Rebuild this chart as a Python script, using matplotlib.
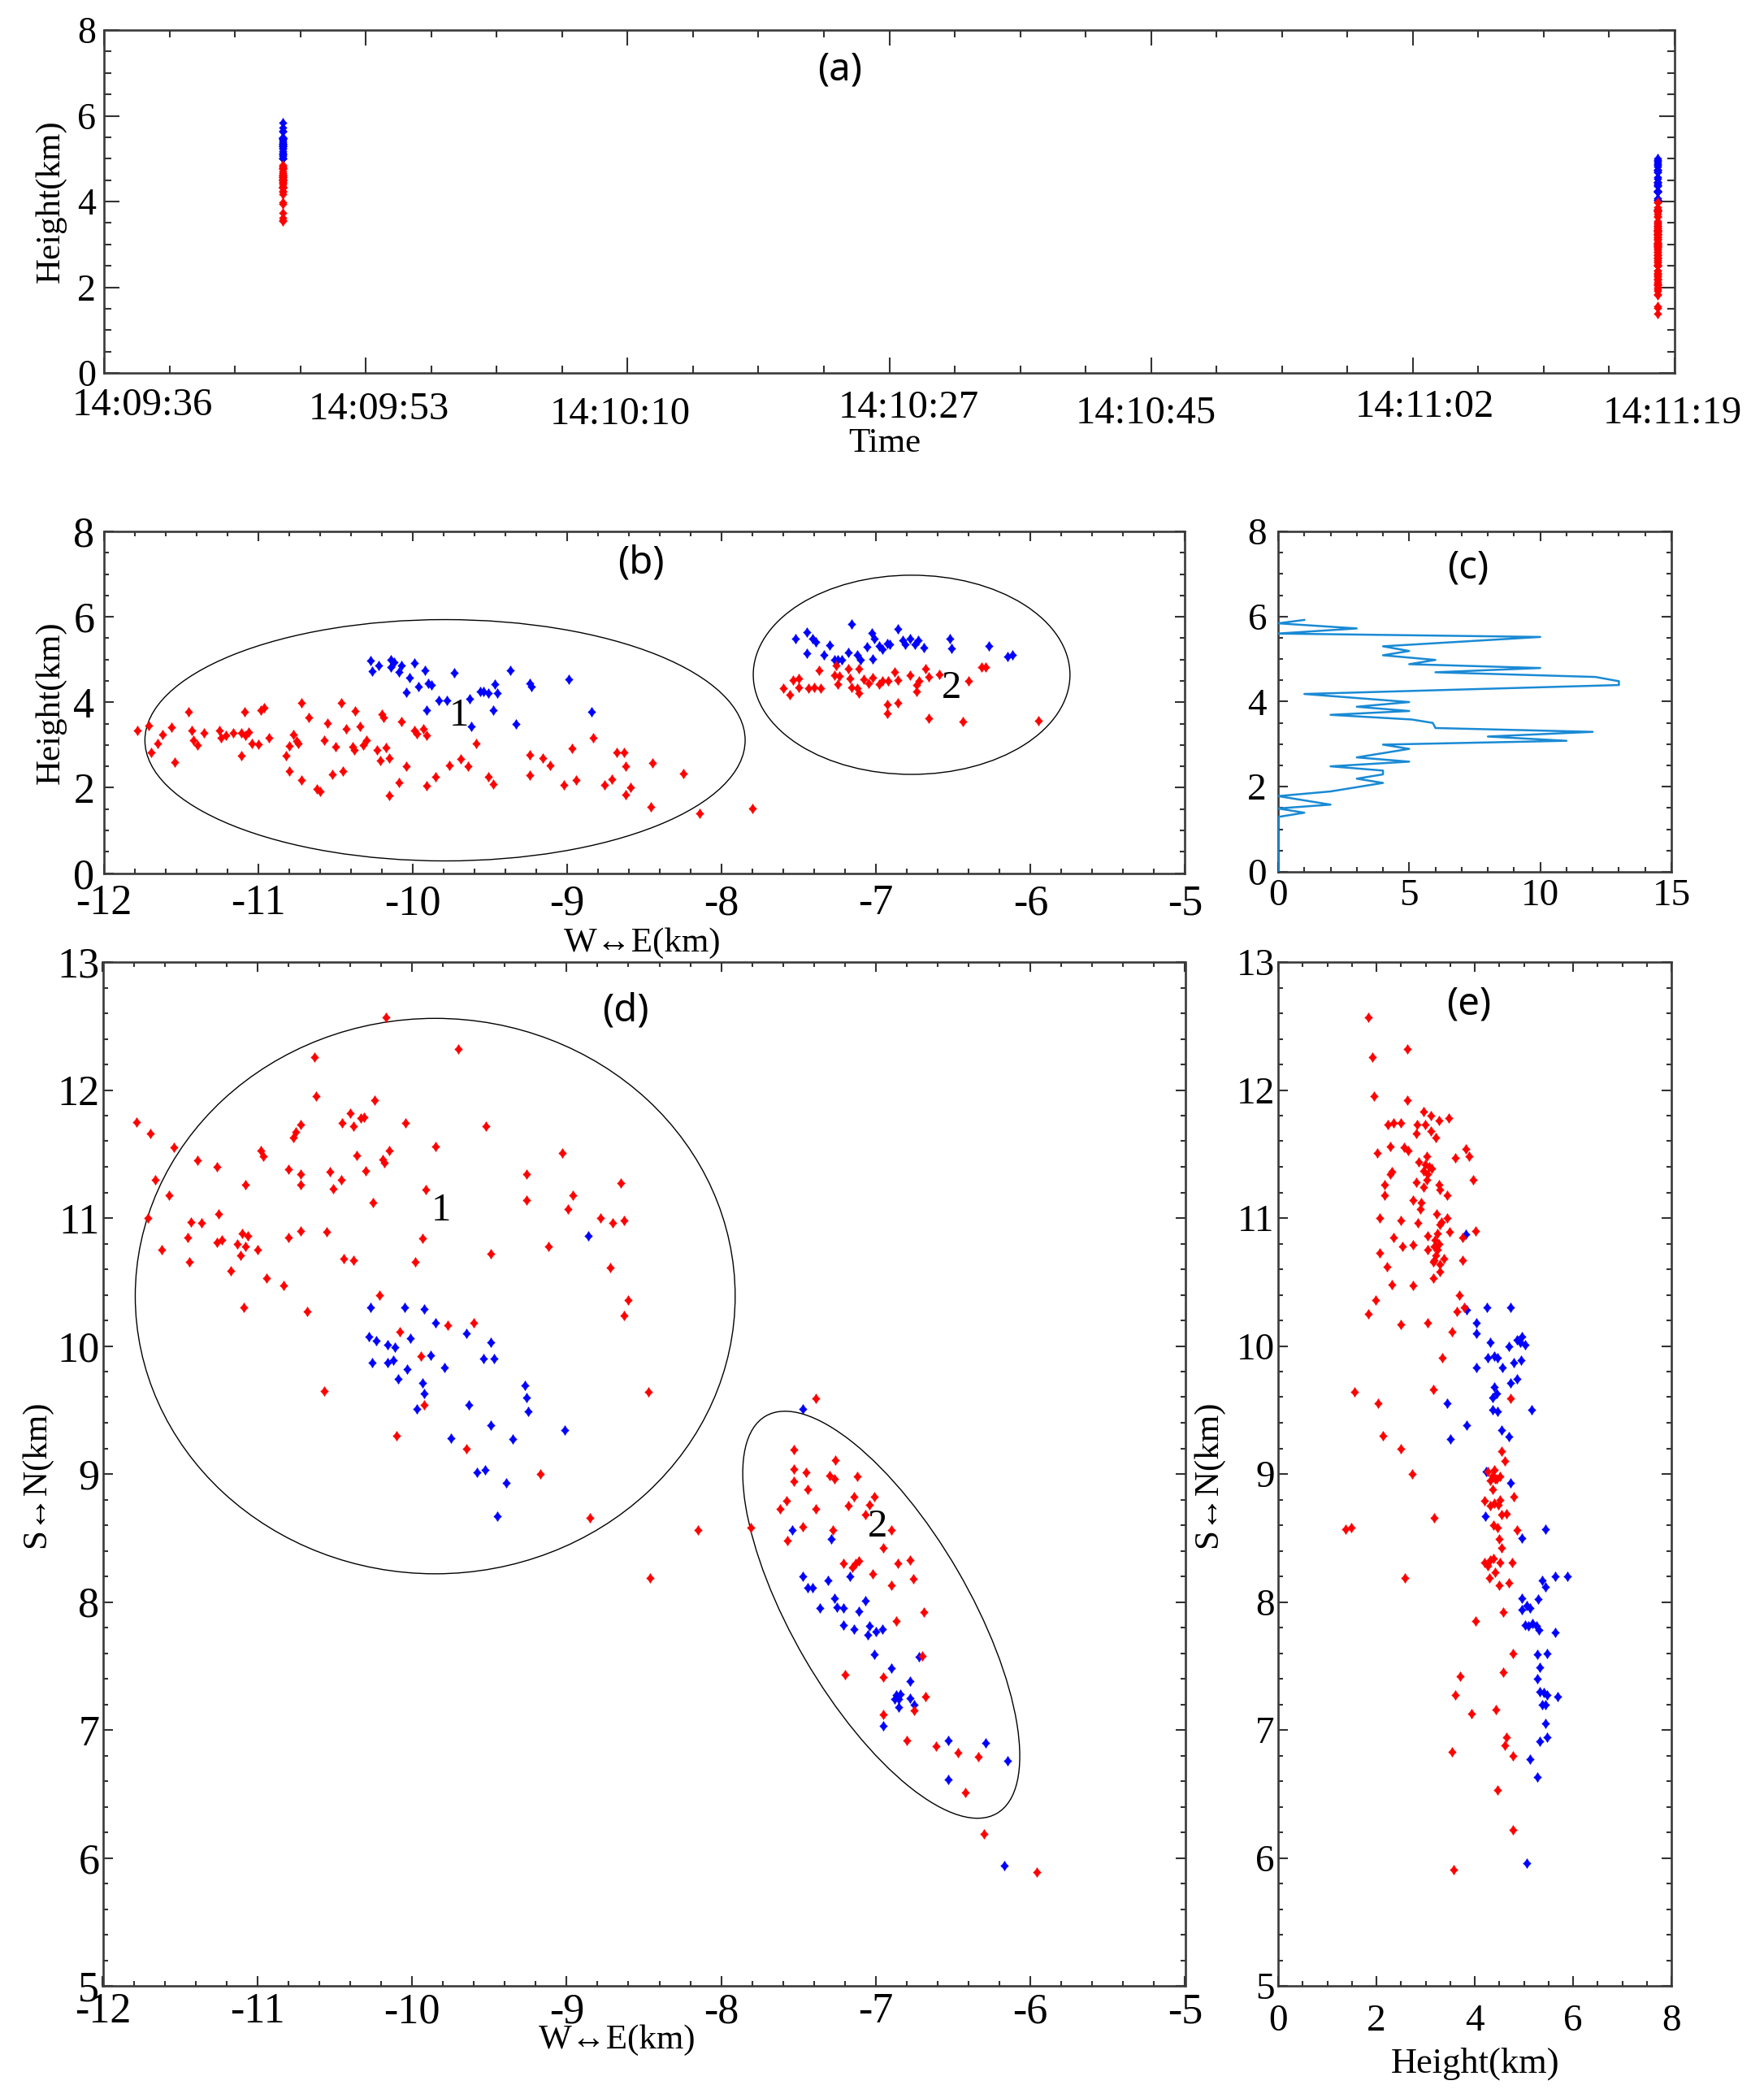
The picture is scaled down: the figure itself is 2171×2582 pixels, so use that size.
import numpy as np
import matplotlib
matplotlib.use('Agg')
import matplotlib.pyplot as plt
from matplotlib.patches import Ellipse
from matplotlib.path import Path
from matplotlib.transforms import Affine2D, ScaledTranslation
from matplotlib.ticker import MultipleLocator, FixedLocator, AutoMinorLocator

plt.rcParams['font.family'] = ['Liberation Serif', 'DejaVu Serif']
plt.rcParams['axes.unicode_minus'] = False

# ---------------- data ----------------
# (a) time axis
time_labels = ['14:09:36', '14:09:53', '14:10:10', '14:10:27', '14:10:45', '14:11:02', '14:11:19']
flash2_time = '14:09:47.7'   # cluster 2 (left column in a)
flash1_time = '14:11:17.9'   # cluster 1 (right column in a)

# (b) W-E vs height, cluster 1
b1_red_x = [-11.78, -11.71, -11.69, -11.65, -11.62, -11.56, -11.54, -11.45, -11.43, -11.42, -11.39, -11.35,
            -11.25, -11.24, -11.21, -11.16, -11.11, -11.11, -11.09, -11.08, -11.06, -11.04, -11.00, -10.98,
            -10.96, -10.93, -10.82, -10.80, -10.80, -10.77, -10.75, -10.74, -10.72, -10.72, -10.67, -10.62,
            -10.60, -10.57, -10.55, -10.52, -10.50, -10.46, -10.45, -10.43, -10.39, -10.38, -10.37, -10.34,
            -10.32, -10.30, -10.23, -10.21, -10.20, -10.19, -10.17, -10.15, -10.15, -10.09, -10.07, -10.04,
            -9.99, -9.97, -9.93, -9.91, -9.91, -9.85, -9.76, -9.69, -9.64, -9.59, -9.51, -9.48, -9.24, -9.24,
            -9.16, -9.11, -9.02, -8.97, -8.94, -8.83, -8.76, -8.71, -8.68, -8.63, -8.62, -8.62, -8.59, -8.46,
            -8.45, -8.25, -8.14, -7.80]
b1_red_z = [3.34, 3.46, 2.82, 3.03, 3.24, 3.41, 2.59, 3.78, 3.34, 3.12, 3.00, 3.29,
            3.34, 3.17, 3.23, 3.29, 2.75, 3.29, 3.78, 3.23, 3.31, 3.03, 3.02, 3.81,
            3.87, 3.17, 2.75, 2.98, 2.38, 3.24, 3.09, 3.03, 3.99, 2.18, 3.65, 1.96,
            1.92, 3.12, 3.51, 2.31, 2.95, 3.99, 2.38, 3.37, 2.95, 2.88, 3.80, 3.44,
            3.00, 3.12, 2.89, 2.63, 3.71, 3.64, 2.93, 2.70, 1.82, 2.13, 3.55, 2.51,
            3.34, 3.26, 3.37, 3.22, 2.04, 2.25, 2.52, 2.68, 2.51, 3.03, 2.25, 2.08, 2.76, 2.30,
            2.69, 2.52, 2.06, 2.92, 2.18, 3.17, 2.06, 2.20, 2.83, 2.83, 2.51, 1.83, 2.00, 1.55,
            2.58, 2.34, 1.39, 1.51]
b1_blue_x = [-10.27, -10.26, -10.22, -10.14, -10.14, -10.12, -10.09, -10.07, -10.04, -10.02, -9.99, -9.96,
             -9.92, -9.91, -9.90, -9.88, -9.83, -9.78, -9.73, -9.63, -9.62, -9.56, -9.54, -9.51, -9.48,
             -9.47, -9.45, -9.37, -9.33, -9.24, -9.23, -8.99, -8.84]
b1_blue_z = [4.97, 4.73, 4.86, 5.00, 4.82, 4.94, 4.70, 4.87, 4.23, 4.57, 4.91, 4.37,
             4.74, 3.81, 4.45, 4.40, 4.04, 4.04, 4.69, 4.08, 3.44, 4.25, 4.25, 4.22, 3.81,
             4.43, 4.22, 4.74, 3.50, 4.45, 4.36, 4.53, 3.78]
# (b) cluster 2
b2_red_x = [-7.60, -7.56, -7.54, -7.50, -7.50, -7.44, -7.40, -7.37, -7.36, -7.27, -7.26, -7.25, -7.24,
            -7.18, -7.17, -7.16, -7.12, -7.11, -7.11, -7.08, -7.05, -7.02, -6.98, -6.96, -6.93, -6.93,
            -6.92, -6.88, -6.86, -6.86, -6.78, -6.74, -6.74, -6.72, -6.68, -6.66, -6.66, -6.59, -6.44,
            -6.40, -6.32, -6.29, -5.95]
b2_red_z = [4.32, 4.18, 4.52, 4.56, 4.35, 4.32, 4.35, 4.75, 4.32, 4.63, 4.86, 4.43, 4.61,
            4.78, 4.56, 4.35, 4.32, 4.78, 4.22, 4.54, 4.45, 4.57, 4.43, 4.50, 3.94, 3.74,
            4.50, 4.70, 4.52, 3.99, 4.63, 4.40, 4.25, 4.50, 4.78, 4.59, 3.62, 4.66, 3.55,
            4.49, 4.82, 4.82, 3.57]
b2_blue_x = [-7.52, -7.45, -7.45, -7.41, -7.39, -7.34, -7.30, -7.27, -7.25, -7.22, -7.18, -7.16, -7.12,
             -7.10, -7.06, -7.03, -7.02, -7.01, -6.98, -6.96, -6.93, -6.91, -6.86, -6.83, -6.81, -6.78,
             -6.75, -6.73, -6.69, -6.52, -6.51, -6.27, -6.15, -6.12]
b2_blue_z = [5.48, 5.14, 5.65, 5.48, 5.42, 5.10, 5.34, 5.00, 5.00, 5.00, 5.17, 5.84, 5.10,
             5.00, 5.29, 5.63, 5.01, 5.48, 5.31, 5.24, 5.38, 5.35, 5.72, 5.46, 5.35, 5.49,
             5.35, 5.46, 5.28, 5.48, 5.26, 5.31, 5.07, 5.10]

# (c) source count profile vs height
c_count = [1, 0, 3, 0, 10, 4, 5, 4, 6, 5, 10, 6, 12.1, 13, 13, 1, 5, 3, 5, 2, 5.1, 5.9, 6, 12, 8, 11,
           4, 5, 3, 5, 2, 4, 4, 3, 4, 2, 0, 2, 0, 1, 0, 0]
c_height = [5.92, 5.84, 5.72, 5.60, 5.52, 5.30, 5.19, 5.09, 4.98, 4.88, 4.79, 4.69, 4.58, 4.48, 4.39,
            4.18, 3.99, 3.88, 3.78, 3.69, 3.58, 3.50, 3.38, 3.29, 3.18, 3.08, 2.99, 2.89, 2.69, 2.59,
            2.48, 2.38, 2.29, 2.19, 2.09, 1.89, 1.78, 1.58, 1.49, 1.39, 1.29, 0.0]

# (d) W-E vs S-N
d_red_x = [-11.78, -11.69, -11.54, -11.66, -11.57, -11.71, -11.39, -11.26, -11.08, -11.43, -11.36, -11.25,
           -11.45, -11.62, -11.44, -11.26, -11.23, -11.10, -11.06, -11.13, -11.08, -11.11, -11.00, -11.17,
           -10.94, -10.83, -11.09, -10.68, -10.80, -10.72, -10.55, -10.98, -10.96, -10.80, -10.72, -10.72,
           -10.77, -10.75, -10.72, -10.63, -10.62, -10.45, -10.40, -10.38, -10.33, -10.31, -10.24, -10.17,
           -9.70, -10.04, -10.53, -10.46, -10.51, -10.36, -10.30, -10.15, -10.19, -10.18, -10.25, -9.85,
           -9.91, -9.93, -9.98, -10.44, -10.38, -10.21, -9.52, -9.26, -9.26, -9.03, -8.96, -8.99, -9.12,
           -9.49, -8.78, -8.70, -8.63, -8.65, -8.72, -8.60, -8.63, -10.08, -9.77, -9.60, -9.94,
           -10.57, -8.47, -9.92, -10.10, -9.65, -9.17, -8.85, -8.46,
           -7.39, -8.15, -7.81, -7.53, -7.26, -7.53, -7.45, -7.30, -7.27, -7.12, -7.53, -7.44, -7.58,
           -7.62, -7.39, -7.18, -7.14, -7.01, -7.04, -7.07, -7.47, -7.28, -7.57, -6.90, -6.95, -7.21,
           -7.15, -7.13, -7.11, -6.86, -6.78, -7.02, -6.90, -6.76, -6.69, -6.87, -6.70, -7.20, -6.95,
           -6.68, -6.75, -6.95, -6.80, -6.61, -6.47, -6.34, -6.42, -6.30, -5.96]
d_red_y = [11.75, 11.66, 11.55, 11.30, 11.18, 11.00, 11.45, 11.40, 11.26, 10.97, 10.96, 11.03,
           10.85, 10.75, 10.66, 10.81, 10.83, 10.88, 10.86, 10.80, 10.78, 10.71, 10.75, 10.59,
           10.53, 10.47, 10.30, 10.27, 10.85, 10.90, 10.89, 11.53, 11.48, 11.38, 11.34, 11.26,
           11.63, 11.67, 11.73, 12.26, 11.95, 11.74, 11.82, 11.72, 11.78, 11.79, 11.92, 12.57,
           12.32, 11.74, 11.36, 11.30, 11.23, 11.49, 11.37, 11.53, 11.46, 11.43, 11.12, 11.56,
           11.22, 10.84, 10.66, 10.68, 10.67, 10.40, 11.72, 11.34, 11.14, 11.51, 11.18, 11.07, 10.78,
           10.72, 11.00, 10.96, 10.98, 11.27, 10.61, 10.36, 10.24, 10.11, 10.16, 10.18, 9.92,
           9.65, 9.64, 9.54, 9.30, 9.20, 9.00, 8.66, 8.19,
           9.59, 8.56, 8.58, 9.19, 9.11, 9.04, 9.01, 8.99, 8.96, 8.98, 8.94, 8.88, 8.79,
           8.73, 8.73, 8.75, 8.82, 8.82, 8.76, 8.68, 8.59, 8.56, 8.48, 8.56, 8.42, 8.30,
           8.27, 8.30, 8.32, 8.30, 8.33, 8.22, 8.13, 8.18, 7.92, 7.85, 7.58, 7.43, 7.41,
           7.26, 7.15, 7.12, 6.92, 6.87, 6.82, 6.79, 6.51, 6.19, 5.89]
d_blue_x = [-8.86, -10.27, -10.05, -9.92, -9.85, -9.65, -10.28, -10.23, -10.16, -10.11, -10.01, -9.49,
            -9.88, -10.26, -10.16, -10.12, -10.03, -9.79, -9.54, -9.47, -10.09, -9.93, -9.92, -9.97,
            -9.63, -9.27, -9.26, -9.25, -9.49, -9.75, -9.35, -9.01, -9.58, -9.53, -9.39, -9.45,
            -7.47, -7.54, -7.29, -7.47, -7.44, -7.41, -7.31, -7.17, -7.27, -7.07, -7.36, -7.25, -7.21,
            -7.11, -7.21, -7.14, -7.04, -7.00, -6.96, -7.05, -7.01, -6.72, -6.90, -6.78, -6.87, -6.84,
            -6.85, -6.88, -6.78, -6.75, -6.85, -6.95, -6.53, -6.29, -6.15, -6.53, -6.17]
d_blue_y = [10.86, 10.30, 10.30, 10.29, 10.18, 10.10, 10.07, 10.04, 10.01, 9.99, 10.06, 10.03,
            9.93, 9.87, 9.87, 9.89, 9.82, 9.83, 9.90, 9.90, 9.74, 9.71, 9.63, 9.51,
            9.54, 9.69, 9.60, 9.49, 9.38, 9.28, 9.27, 9.34, 9.01, 9.03, 8.93, 8.67,
            9.51, 8.56, 8.49, 8.20, 8.11, 8.11, 8.17, 8.20, 8.03, 8.01, 7.95, 7.96, 7.95,
            7.93, 7.82, 7.79, 7.81, 7.77, 7.79, 7.74, 7.59, 7.57, 7.48, 7.38, 7.27, 7.28,
            7.24, 7.24, 7.25, 7.20, 7.18, 7.03, 6.92, 6.90, 6.76, 6.61, 5.94]

# (e) height vs S-N
e_red_z = [1.84, 1.91, 2.63, 1.95, 2.63, 2.96, 3.10, 3.47, 2.23, 2.34, 2.49, 2.83, 2.99, 3.28, 2.81, 3.10,
           3.21, 2.02, 2.28, 2.56, 2.64, 3.82, 3.89, 3.61, 2.86, 3.02, 2.99, 3.07, 3.12, 2.96, 3.04, 3.03,
           2.28, 2.32, 2.17, 2.81, 2.96, 3.28, 3.29, 2.16, 3.43, 3.97, 2.75, 2.91, 2.89, 3.23, 3.43, 3.32,
           2.07, 2.49, 2.85, 3.29, 4.01, 3.48, 3.75, 3.24, 3.19, 3.04, 3.27, 2.35, 2.53, 2.75, 3.17, 3.04,
           3.24, 3.21, 3.17, 3.37, 3.29, 3.15, 2.07, 2.21, 3.75, 3.29, 3.15, 2.32, 2.75, 3.68, 1.99, 3.78,
           3.64, 1.84, 2.49, 3.04, 3.53, 3.34, 4.72, 1.56, 3.15, 2.03, 2.13, 2.49, 4.55, 4.61,
           2.72, 4.26, 4.36, 4.45, 4.39, 4.42, 4.51, 4.31, 4.36, 4.20, 4.32, 4.39, 4.51, 4.48, 4.80, 4.55,
           4.64, 3.18, 1.37, 1.49, 4.38, 4.47, 4.86, 4.50, 4.55, 4.20, 4.32, 4.38, 4.27, 4.51, 4.76, 4.42,
           4.29, 4.50, 4.69, 2.58, 4.58, 4.01, 4.78, 4.58, 3.71, 3.61, 3.93, 4.43, 4.65, 4.61, 4.78, 3.53,
           4.47, 4.78, 3.57]
e_red_y = [12.57, 12.26, 12.32, 11.95, 11.92, 11.83, 11.80, 11.78, 11.73, 11.74, 11.74, 11.73, 11.73, 11.76,
           11.66, 11.68, 11.63, 11.51, 11.56, 11.55, 11.53, 11.54, 11.48, 11.47, 11.44, 11.48, 11.42, 11.40,
           11.39, 11.37, 11.34, 11.30, 11.34, 11.36, 11.26, 11.28, 11.24, 11.26, 11.22, 11.18, 11.18, 11.30,
           11.14, 11.12, 11.07, 11.03, 11.00, 10.97, 11.00, 10.98, 10.96, 10.95, 10.90, 10.89, 10.85, 10.88,
           10.83, 10.86, 10.80, 10.85, 10.78, 10.79, 10.78, 10.75, 10.75, 10.71, 10.67, 10.68, 10.64, 10.66,
           10.73, 10.62, 10.67, 10.58, 10.53, 10.48, 10.47, 10.40, 10.36, 10.30, 10.27, 10.25, 10.17, 10.18,
           10.11, 9.91, 9.59, 9.64, 9.66, 9.55, 9.30, 9.20, 9.18, 9.10,
           9.00, 9.02, 8.99, 8.96, 9.03, 8.96, 8.98, 8.95, 8.88, 8.79, 8.75, 8.77, 8.80, 8.76, 8.82, 8.68,
           8.69, 8.66, 8.57, 8.58, 8.60, 8.58, 8.56, 8.49, 8.42, 8.31, 8.33, 8.34, 8.28, 8.31, 8.31, 8.23,
           8.19, 8.13, 8.15, 8.19, 7.92, 7.85, 7.60, 7.45, 7.42, 7.27, 7.13, 7.16, 6.94, 6.88, 6.80, 6.83,
           6.53, 6.22, 5.91]
e_blue_z = [3.82, 3.83, 4.25, 4.72, 4.04, 4.04, 4.32, 4.69, 4.86, 4.96, 4.93, 5.02, 4.27, 4.39, 4.47, 4.04,
            4.57, 4.80, 4.95, 4.72, 4.86, 4.39, 4.45, 4.36, 3.43, 5.15, 4.36, 4.47, 3.83, 4.55, 4.69, 3.50,
            4.23, 4.72, 4.21, 5.44, 4.96, 5.37, 5.63, 5.88, 5.44, 5.29, 4.96, 4.96, 5.06, 5.12, 5.02, 5.09,
            5.18, 5.25, 5.31, 5.63, 5.27, 5.47, 5.33, 5.28, 5.33, 5.41, 5.47, 5.69, 5.37, 5.44, 5.44, 5.33,
            5.47, 5.12, 5.27, 5.06]
e_blue_y = [10.87, 10.28, 10.30, 10.30, 10.18, 10.10, 10.03, 10.00, 10.05, 10.07, 10.03, 10.01, 9.91, 9.92,
            9.91, 9.83, 9.83, 9.87, 9.89, 9.71, 9.74, 9.68, 9.63, 9.60, 9.55, 9.50, 9.50, 9.49, 9.38, 9.34,
            9.29, 9.27, 9.02, 8.93, 8.67, 8.57, 8.50, 8.17, 8.20, 8.20, 8.12, 8.02, 8.03, 7.94, 7.97, 7.95,
            7.82, 7.81, 7.83, 7.81, 7.78, 7.76, 7.59, 7.60, 7.49, 7.40, 7.30, 7.29, 7.27, 7.26, 7.20, 7.20,
            7.05, 6.91, 6.94, 6.77, 6.63, 5.96]

# ---------------- helpers ----------------
def hms(s):
    h, m, sec = s.split(':')
    return int(h) * 3600 + int(m) * 60 + float(sec)

DIAMOND = Path([(0, 1), (0.4, 0.36), (0.8, 0), (0.4, -0.36), (0, -1),
                (-0.4, -0.36), (-0.8, 0), (-0.4, 0.36), (0, 1)],
               [Path.MOVETO] + [Path.LINETO] * 7 + [Path.CLOSEPOLY])
RED = '#ff0000'
BLUE = '#0000ff'
SERIF = ['Liberation Serif', 'DejaVu Serif']
TITLE_FONT = dict(family=['Noto Sans', 'DejaVu Sans'], fontsize=34)


def pts(ax, x, y, color, ms=8.6):
    ax.plot(x, y, linestyle='none', marker=DIAMOND, ms=ms, mfc=color, mec=color, mew=0.4, zorder=3)


def style(ax, xmaj=None, xmin=None, ymaj=None, ymin=None, fs=36, xpad=6, ypad=6, L=8.6, l=4.3):
    if xmaj is not None:
        ax.xaxis.set_major_locator(MultipleLocator(xmaj))
        ax.xaxis.set_minor_locator(MultipleLocator(xmin))
    if ymaj is not None:
        ax.yaxis.set_major_locator(MultipleLocator(ymaj))
        ax.yaxis.set_minor_locator(MultipleLocator(ymin))
    ax.tick_params(which='both', direction='in', top=True, right=True, color='#333333',
                   width=1.5, labelcolor='black', labelsize=fs, labelfontfamily='Liberation Serif')
    ax.tick_params(which='major', length=L)
    ax.tick_params(which='minor', length=l)
    ax.tick_params(axis='x', which='major', pad=xpad)
    ax.tick_params(axis='y', which='major', pad=ypad)
    for sp in ax.spines.values():
        sp.set_linewidth(1.9)
        sp.set_color('#3a3a3a')


fig = plt.figure(figsize=(21.71, 25.82), dpi=100)
W, H = 2171.0, 2582.0


def axes_px(l, r, t, b):
    return fig.add_axes([l / W, 1 - b / H, (r - l) / W, (b - t) / H])

# ---------------- (a) ----------------
axa = axes_px(128, 2061, 37, 459)
t_start, t_end = hms(time_labels[0]), hms(time_labels[-1])
axa.set_xlim(t_start, t_end)
axa.set_ylim(0, 8)
tick_pos = np.linspace(t_start, t_end, len(time_labels))
axa.xaxis.set_major_locator(FixedLocator(tick_pos))
axa.xaxis.set_minor_locator(AutoMinorLocator(4))
style(axa, ymaj=2, ymin=0.5, fs=33, xpad=13, ypad=7, L=14, l=6.5)
axa.tick_params(axis='x', labelsize=35)
axa.set_xticks(tick_pos, time_labels)
t2 = hms(flash2_time)
t1 = hms(flash1_time)
pts(axa, [t2] * len(b2_blue_z), b2_blue_z, BLUE)
pts(axa, [t1] * len(b1_blue_z), b1_blue_z, BLUE)
pts(axa, [t2] * len(b2_red_z), b2_red_z, RED)
pts(axa, [t1] * len(b1_red_z), b1_red_z, RED)
axa.text((1034 - 128) / 1933, 0.884, '(a)', transform=axa.transAxes, ha='center', va='center', **TITLE_FONT)
axa.set_xlabel('Time', fontsize=31, va='center')
axa.xaxis.set_label_coords(0.497, -0.206)
axa.set_ylabel('Height(km)', fontsize=31, va='center')
axa.yaxis.set_label_coords(-0.034, 0.5)
label_dx = [47, 16, -9, 24, -6, 15, -3]
label_dy = [0, 5, 11, 3, 10, 2, 10]
for lab, dx, dy in zip(axa.get_xticklabels(), label_dx, label_dy):
    lab.set_fontfamily(SERIF)
    lab.set_transform(lab.get_transform() + ScaledTranslation(dx / 100, -dy / 100, fig.dpi_scale_trans))

# ---------------- (b) ----------------
axb = axes_px(127.5, 1458.5, 654, 1074.5)
axb.set_xlim(-12, -5)
axb.set_ylim(0, 8)
style(axb, 1, 0.2, 2, 0.5, fs=37.5, xpad=10, ypad=8)
pts(axb, b1_blue_x, b1_blue_z, BLUE)
pts(axb, b2_blue_x, b2_blue_z, BLUE)
pts(axb, b1_red_x, b1_red_z, RED)
pts(axb, b2_red_x, b2_red_z, RED)
axb.add_patch(Ellipse((-9.79, 3.11), 3.885, 5.65, fill=False, ec='black', lw=1.0))
axb.add_patch(Ellipse((-6.77, 4.643), 2.05, 4.664, fill=False, ec='black', lw=1.0))
axb.text(-9.70, 3.69, '1', ha='center', va='center', fontsize=35)
axb.text(-6.51, 4.33, '2', ha='center', va='center', fontsize=35)
axb.text(-8.52, 7.26, '(b)', ha='center', va='center', **TITLE_FONT)
axb.set_xlabel('W\u2194E(km)', fontsize=31, va='center')
axb.xaxis.set_label_coords(0.498, -0.206)
axb.set_ylabel('Height(km)', fontsize=31, va='center')
axb.yaxis.set_label_coords(-0.049, 0.5)

# ---------------- (c) ----------------
axc = axes_px(1573, 2057, 654, 1073)
axc.set_xlim(0, 15)
axc.set_ylim(0, 8)
style(axc, 5, 1, 2, 0.5, fs=34, xpad=6, ypad=10)
axc.plot(c_count, c_height, color='#1a8ad4', lw=1.8, zorder=3)
axc.text(7.24, 7.15, '(c)', ha='center', va='center', **TITLE_FONT)

# ---------------- (d) ----------------
axd = axes_px(126.5, 1458.5, 1184, 2444)
axd.set_xlim(-12, -5)
axd.set_ylim(5, 13)
style(axd, 1, 0.2, 1, 0.2, fs=37.5, xpad=6, ypad=3)
pts(axd, d_blue_x, d_blue_y, BLUE)
pts(axd, d_red_x, d_red_y, RED)
axd.add_patch(Ellipse((-9.85, 10.39), 3.88, 4.34, fill=False, ec='black', lw=1.0))
# tilted ellipse around cluster 2: conjugate semi-axes u, v (data units)
u = (0.748, -1.552)
v = (-0.493, -0.347)
c2 = (-6.965, 7.90)
ell2 = Ellipse((0, 0), 2, 2, fill=False, ec='black', lw=1.0,
               transform=Affine2D.from_values(u[0], u[1], v[0], v[1], c2[0], c2[1]) + axd.transData)
axd.add_patch(ell2)
axd.text(-9.81, 11.06, '1', ha='center', va='center', fontsize=35)
axd.text(-6.99, 8.59, '2', ha='center', va='center', fontsize=35)
axd.text(-8.62, 12.62, '(d)', ha='center', va='center', **TITLE_FONT)
axd.set_xlabel('W\u2194E(km)', fontsize=31, va='center')
axd.xaxis.set_label_coords(0.475, -0.053)
axd.set_ylabel('S\u2194N(km)', fontsize=31, va='center')
axd.yaxis.set_label_coords(-0.061, 0.5)

# ---------------- (e) ----------------
axe = axes_px(1573, 2057, 1184, 2444)
axe.set_xlim(0, 8)
axe.set_ylim(5, 13)
style(axe, 2, 0.5, 1, 0.2, fs=34, xpad=16, ypad=3)
pts(axe, e_blue_z, e_blue_y, BLUE)
pts(axe, e_red_z, e_red_y, RED)
axe.text(3.88, 12.67, '(e)', ha='center', va='center', **TITLE_FONT)
axe.set_xlabel('Height(km)', fontsize=32, va='center')
axe.xaxis.set_label_coords(0.502, -0.076)
axe.set_ylabel('S\u2194N(km)', fontsize=31, va='center')
axe.yaxis.set_label_coords(-0.178, 0.5)

fig.savefig('out.png', dpi=100)
